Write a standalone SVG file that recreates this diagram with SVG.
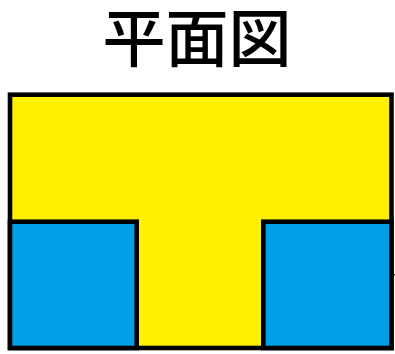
<svg xmlns="http://www.w3.org/2000/svg" width="395" height="354" viewBox="0 0 395 354">
<style>
.o{stroke:#000;stroke-width:4.6;stroke-linejoin:miter}
.t{font-family:"Noto Sans CJK JP","Noto Sans CJK SC",sans-serif;font-size:63px;font-weight:500;fill:#000}
</style>
<rect width="395" height="354" fill="#fff"/>
<rect id="floor" class="o" fill="#fff100" x="10" y="94.7" width="381.5" height="253.3"/>
<rect id="roomLeft" class="o" fill="#00a0e6" x="10" y="221.7" width="126.7" height="126.3"/>
<rect id="roomRight" class="o" fill="#00a0e6" x="263.3" y="221.7" width="128.2" height="126.3"/>
<rect id="tick" x="393" y="274" width="2" height="1.5" fill="#222"/>
<text class="t" x="197" y="60.5" text-anchor="middle">平面図</text>
</svg>
